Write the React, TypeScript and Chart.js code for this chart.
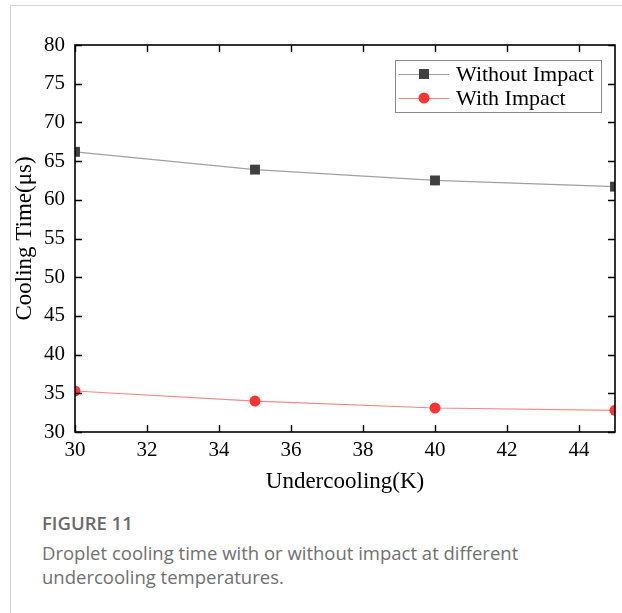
import React, { useEffect, useRef } from "react";
import { Chart, registerables } from "chart.js";

Chart.register(...registerables);

// ---- data ----
const undercooling = [30, 35, 40, 45];
const withoutImpact = [66.2, 63.9, 62.5, 61.7];
const withImpact = [35.3, 34.0, 33.1, 32.8];
const seriesNames = ["Without Impact", "With Impact"];
const xTitle = "Undercooling(K)";
const yTitle = "Cooling Time(\u03bcs)";
const xRange = [30, 45];
const yRange = [30, 80];
const xStep = 2;
const yStep = 5;

const SERIF = "'Liberation Serif', 'Times New Roman', serif";

const framePlugin = {
  id: "frame",
  afterDatasetsDraw(chart: any) {
    const { ctx, chartArea } = chart;
    const { left, right, top, bottom } = chartArea;
    const xs = chart.scales.x;
    const ys = chart.scales.y;
    ctx.save();
    ctx.strokeStyle = "#000";
    ctx.lineWidth = 1.6;
    ctx.strokeRect(left, top, right - left, bottom - top);
    const tl = 7;
    ctx.beginPath();
    xs.ticks.forEach((t: any) => {
      const px = Math.round(xs.getPixelForValue(t.value)) + 0.5;
      ctx.moveTo(px, bottom);
      ctx.lineTo(px, bottom - tl);
      ctx.moveTo(px, top);
      ctx.lineTo(px, top + tl);
    });
    ys.ticks.forEach((t: any) => {
      const py = Math.round(ys.getPixelForValue(t.value)) + 0.5;
      ctx.moveTo(left, py);
      ctx.lineTo(left + tl, py);
      ctx.moveTo(right, py);
      ctx.lineTo(right - tl, py);
    });
    ctx.lineWidth = 1.4;
    ctx.stroke();
    ctx.restore();
  },
};

const legendPlugin = {
  id: "boxLegend",
  afterDraw(chart: any) {
    const { ctx, chartArea } = chart;
    const w = 206;
    const h = 52;
    const x0 = chartArea.right - 14 - w;
    const y0 = chartArea.top + 15;
    ctx.save();
    ctx.strokeStyle = "#8a8a8a";
    ctx.lineWidth = 1;
    ctx.strokeRect(x0 + 0.5, y0 + 0.5, w, h);
    chart.data.datasets.forEach((ds: any, i: number) => {
      const cy = y0 + 14 + i * 24;
      ctx.strokeStyle = ds.borderColor;
      ctx.lineWidth = 1;
      ctx.beginPath();
      ctx.moveTo(x0 + 4, cy + 0.5);
      ctx.lineTo(x0 + 54, cy + 0.5);
      ctx.stroke();
      ctx.fillStyle = ds.pointBackgroundColor;
      const mx = x0 + 29;
      if (ds.pointStyle === "rect") {
        ctx.fillRect(mx - 5, cy - 5, 10, 10);
      } else {
        ctx.beginPath();
        ctx.arc(mx, cy, 5.5, 0, Math.PI * 2);
        ctx.fill();
      }
      ctx.fillStyle = "#000";
      ctx.font = `22px ${SERIF}`;
      ctx.textBaseline = "middle";
      ctx.textAlign = "left";
      ctx.fillText(ds.label, x0 + 61, cy + 1);
    });
    ctx.restore();
  },
};

function ChartView() {
  const ref = useRef<HTMLCanvasElement | null>(null);
  useEffect(() => {
    if (!ref.current) return;
    const chart = new Chart(ref.current, {
      type: "line",
      data: {
        datasets: [
          {
            label: seriesNames[0],
            data: undercooling.map((x, i) => ({ x, y: withoutImpact[i] })),
            borderColor: "#a0a0a0",
            borderWidth: 1.2,
            pointStyle: "rect",
            pointRadius: 7,
            pointBackgroundColor: "#404040",
            pointBorderColor: "#404040",
            pointBorderWidth: 0,
            clip: 0,
          } as any,
          {
            label: seriesNames[1],
            data: undercooling.map((x, i) => ({ x, y: withImpact[i] })),
            borderColor: "#f08a8a",
            borderWidth: 1.2,
            pointStyle: "circle",
            pointRadius: 5.5,
            pointBackgroundColor: "#ff3434",
            pointBorderColor: "#ff3434",
            pointBorderWidth: 0,
            clip: 0,
          } as any,
        ],
      },
      options: {
        animation: false,
        responsive: false,
        maintainAspectRatio: false,
        layout: { padding: { left: 10, top: 45, right: 5, bottom: 0 } },
        plugins: { legend: { display: false }, tooltip: { enabled: false } },
        scales: {
          x: {
            type: "linear",
            min: xRange[0],
            max: xRange[1],
            grid: { display: false, drawTicks: false },
            border: { display: false },
            ticks: {
              stepSize: xStep,
              includeBounds: false,
              padding: 6,
              color: "#000",
              font: { family: SERIF, size: 21 },
              maxRotation: 0,
            },
            title: {
              display: true,
              text: xTitle,
              color: "#000",
              font: { family: SERIF, size: 23 },
              padding: { top: 0, bottom: 4 },
            },
            afterFit(scale: any) {
              scale.height = 68;
            },
          },
          y: {
            type: "linear",
            min: yRange[0],
            max: yRange[1],
            grid: { display: false, drawTicks: false },
            border: { display: false },
            ticks: {
              stepSize: yStep,
              padding: 10,
              color: "#000",
              font: { family: SERIF, size: 21 },
            },
            title: {
              display: true,
              text: yTitle,
              color: "#000",
              font: { family: SERIF, size: 23 },
              padding: { top: 1, bottom: 0 },
            },
            afterFit(scale: any) {
              scale.width = 65;
            },
          },
        },
      },
      plugins: [framePlugin, legendPlugin],
    });
    return () => chart.destroy();
  }, []);
  return (
    <canvas
      ref={ref}
      width={622}
      height={500}
      style={{ position: "absolute", left: 0, top: 0, width: 622, height: 500 }}
    />
  );
}

export default function App() {
  return (
    <div
      style={{
        position: "absolute",
        left: 0,
        top: 0,
        width: 622,
        height: 613,
        background: "#fff",
        overflow: "hidden",
      }}
    >
      <div
        style={{
          position: "absolute",
          left: 10,
          top: 5,
          width: 612,
          height: 0,
          borderTop: "1px solid #d4d4d4",
        }}
      />
      <div
        style={{
          position: "absolute",
          left: 10,
          top: 5,
          width: 0,
          height: 608,
          borderLeft: "1px solid #d4d4d4",
        }}
      />
      <ChartView />
      <div
        style={{
          position: "absolute",
          left: 42,
          top: 511,
          fontFamily: "'Open Sans', 'Noto Sans', sans-serif",
          fontSize: 18.5,
          lineHeight: "24px",
          fontWeight: 600,
          color: "#6a6a6a",
        }}
      >
        FIGURE 11
      </div>
      <div
        style={{
          position: "absolute",
          left: 42,
          top: 541,
          width: 570,
          fontFamily: "'Open Sans', 'Noto Sans', sans-serif",
          fontSize: 18.5,
          lineHeight: "24px",
          color: "#707070",
        }}
      >
        Droplet cooling time with or without impact at different
        <br />
        undercooling temperatures.
      </div>
    </div>
  );
}
